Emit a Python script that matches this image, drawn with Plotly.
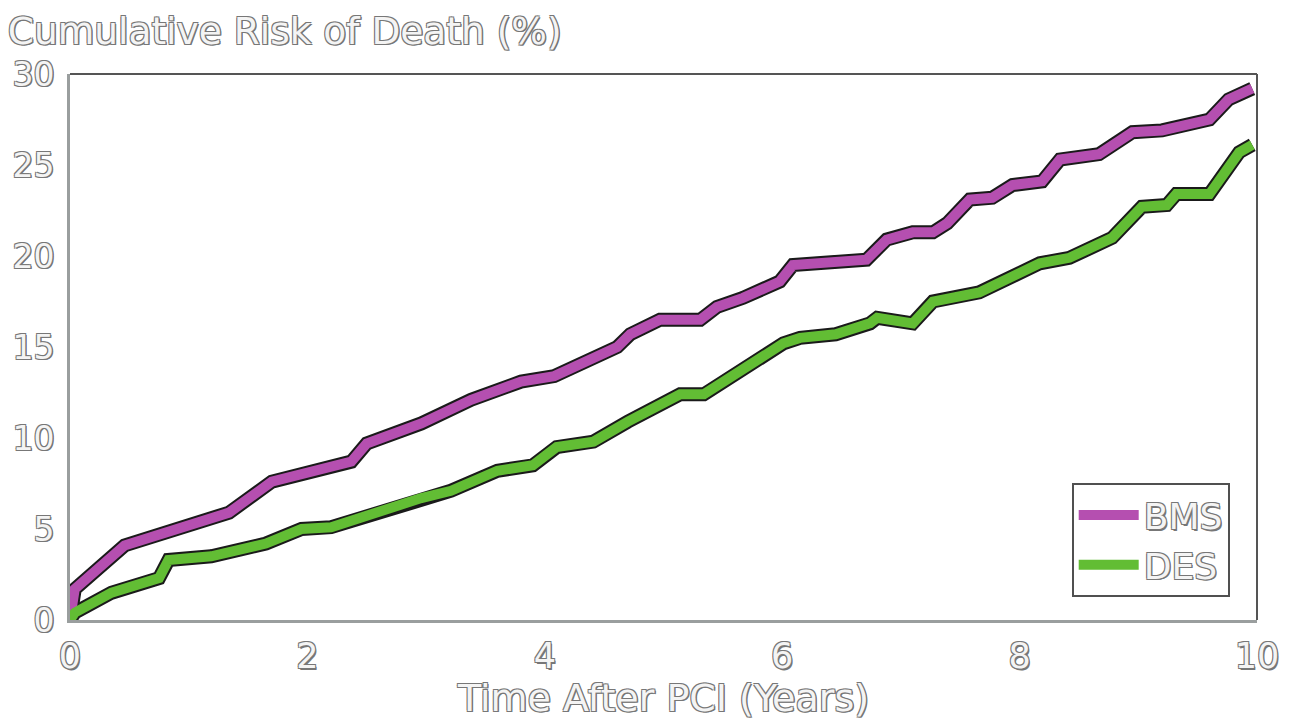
import plotly.graph_objects as go

# Cumulative risk of death after PCI, bare-metal vs drug-eluting stents
bms_years = [0, 0.04, 0.46, 1.34, 1.7, 2.37, 2.5, 2.96, 3.38, 3.8, 4.08, 4.45, 4.61, 4.72,
             4.97, 5.31, 5.45, 5.67, 5.98, 6.09, 6.71, 6.88, 7.1, 7.27, 7.39, 7.58, 7.77,
             7.94, 8.19, 8.34, 8.67, 8.95, 9.2, 9.6, 9.76, 9.96]
bms_risk = [0, 1.7, 4.1, 5.9, 7.6, 8.7, 9.7, 10.8, 12.1, 13.1, 13.4, 14.6, 15.0, 15.7,
            16.5, 16.5, 17.2, 17.7, 18.6, 19.5, 19.8, 20.9, 21.3, 21.3, 21.8, 23.1, 23.2,
            23.9, 24.1, 25.3, 25.6, 26.8, 26.9, 27.5, 28.6, 29.2]

des_years = [0, 0.04, 0.35, 0.75, 0.83, 1.19, 1.65, 1.95, 2.2, 2.62, 2.96, 3.21, 3.6, 3.9,
             4.1, 4.41, 4.7, 5.14, 5.34, 6.01, 6.15, 6.45, 6.74, 6.8, 7.1, 7.27, 7.66,
             8.17, 8.42, 8.78, 9.03, 9.24, 9.32, 9.6, 9.85, 9.96]
des_risk = [0, 0.4, 1.5, 2.3, 3.3, 3.5, 4.2, 5.0, 5.1, 6.0, 6.7, 7.1, 8.2, 8.5,
            9.5, 9.8, 10.9, 12.4, 12.4, 15.2, 15.5, 15.7, 16.3, 16.6, 16.3, 17.5, 18.0,
            19.6, 19.9, 21.0, 22.7, 22.8, 23.4, 23.4, 25.7, 26.1]

x_ticks = [0, 2, 4, 6, 8, 10]
y_ticks = [0, 5, 10, 15, 20, 25, 30]

series = [
    ("BMS", bms_years, bms_risk, "#b54fb0"),
    ("DES", des_years, des_risk, "#62bd34"),
]

FONT = "DejaVu Sans, Verdana, sans-serif"
OUTLINE = "#777777"
hollow = ("-1px -1px 0 {c}, 1px -1px 0 {c}, -1px 1px 0 {c}, 1px 1px 0 {c}, "
          "1.5px 1.5px 0 {c}").format(c=OUTLINE)


def text_font(size):
    return dict(family=FONT, size=size, color="#f4f4f4", shadow=hollow)


fig = go.Figure()

# dark edge under each curve
for name, xs, ys, color in series:
    fig.add_trace(go.Scatter(
        x=xs, y=ys, mode="lines", showlegend=False, hoverinfo="skip",
        line=dict(color="#1a1a1a", width=14, shape="linear"),
    ))
for name, xs, ys, color in series:
    fig.add_trace(go.Scatter(
        x=xs, y=ys, mode="lines", name=name,
        line=dict(color=color, width=10, shape="linear"),
    ))

fig.update_layout(
    width=1291, height=725,
    margin=dict(l=68, r=34, t=74, b=105),
    paper_bgcolor="white", plot_bgcolor="white",
    title=dict(text="Cumulative Risk of Death (%)", x=0.006, xanchor="left",
               xref="container", y=0.958, yanchor="middle", yref="container",
               font=text_font(37.5)),
    xaxis=dict(range=[0, 10], tickvals=x_ticks, ticktext=[str(v) for v in x_ticks],
               showgrid=False, zeroline=False, showline=True, linecolor="#9a9e9e",
               linewidth=3, ticks="", tickfont=text_font(35), ticklabelstandoff=3,
               title=dict(text="Time After PCI (Years)", font=text_font(38), standoff=2)),
    yaxis=dict(range=[0, 30], tickvals=y_ticks, ticktext=[str(v) for v in y_ticks],
               showgrid=False, zeroline=False, showline=True, linecolor="#9a9e9e",
               linewidth=3, ticks="", tickfont=text_font(33), ticklabelstandoff=6),
    legend=dict(x=0.977, xanchor="right", y=0.042, yanchor="bottom",
                bgcolor="white", bordercolor="#505050", borderwidth=2,
                font=text_font(36), itemwidth=60, tracegroupgap=0),
    shapes=[
        dict(type="line", xref="paper", yref="paper", x0=0, x1=1, y0=1, y1=1,
             line=dict(color="#555555", width=2)),
        dict(type="line", xref="paper", yref="paper", x0=1, x1=1, y0=0, y1=1,
             line=dict(color="#555555", width=2)),
    ],
)

fig.write_html("out.html")
